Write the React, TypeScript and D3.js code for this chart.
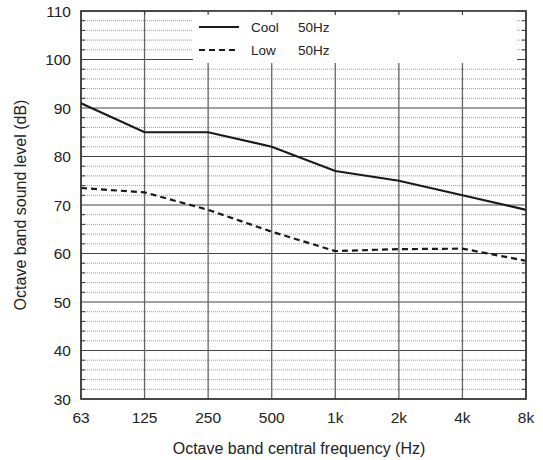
import React from "react";
import * as d3 from "d3";

const freqLabels = ["63", "125", "250", "500", "1k", "2k", "4k", "8k"];
const coolValues = [91, 85, 85, 82, 77, 75, 72, 69];
const lowValues = [73.5, 72.6, 69, 64.5, 60.5, 60.9, 61, 58.5];
const yTicks = [30, 40, 50, 60, 70, 80, 90, 100, 110];
const legendItems = [
  { name: "Cool", freq: "50Hz", dash: "none" },
  { name: "Low", freq: "50Hz", dash: "6,4" },
];

const W = 543, H = 460;
const L = 81, R = 526, T = 11, B = 399;

export default function App() {
  const x = d3.scalePoint<string>().domain(freqLabels).range([L, R]).padding(0);
  const y = d3.scaleLinear().domain([30, 110]).range([B, T]);
  const minor = d3.range(30, 110.01, 2).filter((v) => v % 10 !== 0);
  const line = d3.line<number>().x((_, i) => x(freqLabels[i])!).y((d) => y(d));
  const font = "'Liberation Sans', Arial, sans-serif";
  const legX0 = 193, legX1 = 517, legY1 = 63;
  return (
    <svg width={W} height={H} style={{ position: "absolute", left: 0, top: 0, background: "#fff" }} fontFamily={font}>
      <rect x={0} y={0} width={W} height={H} fill="#fff" />
      {minor.map((v) => (
        <line key={"m" + v} x1={L} x2={R} y1={y(v)} y2={y(v)} stroke="#9a9a9a" strokeWidth={1} strokeDasharray="1,1" />
      ))}
      {yTicks.map((v) => (
        <line key={"g" + v} x1={L} x2={R} y1={y(v)} y2={y(v)} stroke="#444" strokeWidth={1.2} />
      ))}
      {freqLabels.map((f) => (
        <line key={"v" + f} x1={x(f)} x2={x(f)} y1={T} y2={B} stroke="#666" strokeWidth={1.3} />
      ))}
      <rect x={legX0} y={T} width={legX1 - legX0} height={legY1 - T} fill="#fff" />
      {freqLabels.slice(1, -1).map((f) => (
        <line key={"tt" + f} x1={x(f)} x2={x(f)} y1={T} y2={T + 4} stroke="#444" strokeWidth={1.2} />
      ))}
      <path d={line(coolValues)!} fill="none" stroke="#1a1a1a" strokeWidth={2.2} />
      <path d={line(lowValues)!} fill="none" stroke="#1a1a1a" strokeWidth={2.2} strokeDasharray="6,4" />
      {legendItems.map((it, i) => {
        const ly = 27 + i * 23;
        return (
          <g key={it.name}>
            <line x1={199} x2={239} y1={ly} y2={ly} stroke="#1a1a1a" strokeWidth={2.2} strokeDasharray={it.dash} />
            <text x={251} y={ly + 5} fontSize={13.5} fill="#222">{it.name}</text>
            <text x={298} y={ly + 5} fontSize={13.5} fill="#222">{it.freq}</text>
          </g>
        );
      })}
      {minor.map((v) => (
        <g key={"tk" + v}>
          <line x1={L} x2={L + 4} y1={y(v)} y2={y(v)} stroke="#333" strokeWidth={1} />
          <line x1={R - 4} x2={R} y1={y(v)} y2={y(v)} stroke="#333" strokeWidth={1} />
        </g>
      ))}
      <rect x={L} y={T} width={R - L} height={B - T} fill="none" stroke="#333" strokeWidth={1.6} />
      {yTicks.map((v) => (
        <text key={"yl" + v} x={L - 10} y={y(v) + 5.5} textAnchor="end" fontSize={15.5} fill="#222">{v}</text>
      ))}
      {freqLabels.map((f) => (
        <text key={"xl" + f} x={x(f)} y={423} textAnchor="middle" fontSize={15.5} fill="#222">{f}</text>
      ))}
      <text x={299} y={454} textAnchor="middle" fontSize={16} fill="#222">Octave band central frequency (Hz)</text>
      <text transform={`translate(26,205) rotate(-90)`} textAnchor="middle" fontSize={16} fill="#222">Octave band sound level (dB)</text>
    </svg>
  );
}
